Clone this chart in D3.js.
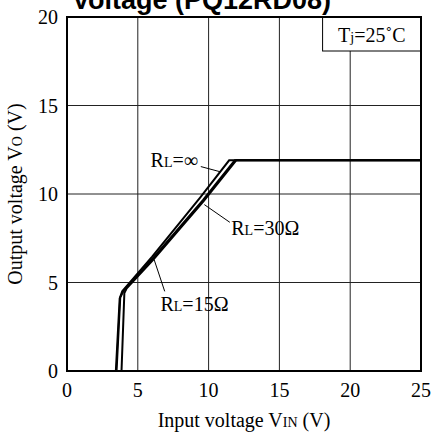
<!DOCTYPE html>
<html>
<head>
<meta charset="utf-8">
<script src="https://cdn.jsdelivr.net/npm/d3@7"></script>
<style>
  html, body { margin: 0; padding: 0; background: #fff; }
  svg { display: block; }
  text { font-family: "Liberation Serif", "Times New Roman", serif; fill: #000; }
</style>
</head>
<body>
<svg id="chart" width="434" height="432"></svg>
<script>
// Output voltage vs input voltage, Tj = 25°C
const xTicks = [0, 5, 10, 15, 20, 25];
const yTicks = [0, 5, 10, 15, 20];

// [Vin, Vo]
const curveInf = [[0, 0], [3.45, 0], [3.72, 4.1], [3.9, 4.5], [6.0, 6.45], [9.4, 9.8], [11.45, 11.9], [25, 11.9]];
const curve30 = [[0, 0], [3.5, 0], [3.76, 4.15], [4.0, 4.55], [6.1, 6.4], [9.6, 9.65], [11.85, 11.9], [25, 11.9]];
const curve15 = [[0, 0], [3.85, 0], [4.05, 4.4], [4.2, 4.65], [6.1, 6.3], [9.65, 9.6], [11.95, 11.9], [25, 11.9]];

// label text, leader line start (near label) and end (on curve), in data units
const labels = [
  { sub: "L", rest: "=∞", at: [5.9, 11.5], from: [9.45, 11.55], to: [10.85, 11.25] },
  { sub: "L", rest: "=30Ω", at: [11.6, 7.7], from: [11.5, 8.4], to: [9.7, 9.4] },
  { sub: "L", rest: "=15Ω", at: [6.6, 3.4], from: [6.9, 4.5], to: [6.15, 6.3] }
];

const margin = { top: 17, right: 13, bottom: 61, left: 67 };
const svg = d3.select("#chart");
const width = +svg.attr("width") - margin.left - margin.right;
const height = +svg.attr("height") - margin.top - margin.bottom;

const x = d3.scaleLinear().domain([0, 25]).range([margin.left, margin.left + width]);
const y = d3.scaleLinear().domain([0, 20]).range([margin.top + height, margin.top]);

// title, cut off by the top edge as in the source
svg.append("text")
  .attr("x", 72).attr("y", 9)
  .style("font-family", "'Liberation Sans', Arial, sans-serif")
  .style("font-weight", "bold")
  .style("font-size", "27px")
  .text("Voltage (PQ12RD08)");

// grid
svg.append("g").selectAll("line")
  .data(xTicks.slice(1, -1))
  .join("line")
  .attr("x1", d => x(d)).attr("x2", d => x(d))
  .attr("y1", y(0)).attr("y2", y(20))
  .attr("stroke", "#222").attr("stroke-width", 1);

svg.append("g").selectAll("line")
  .data(yTicks.slice(1, -1))
  .join("line")
  .attr("x1", x(0)).attr("x2", x(25))
  .attr("y1", d => y(d)).attr("y2", d => y(d))
  .attr("stroke", "#222").attr("stroke-width", 1);

// tick labels
svg.append("g").selectAll("text")
  .data(xTicks)
  .join("text")
  .attr("x", d => x(d)).attr("y", y(0) + 26)
  .attr("text-anchor", "middle")
  .style("font-size", "20px")
  .text(d => d);

svg.append("g").selectAll("text")
  .data(yTicks)
  .join("text")
  .attr("x", x(0) - 9).attr("y", d => y(d) + 7)
  .attr("text-anchor", "end")
  .style("font-size", "20px")
  .text(d => d);

// axis titles
const xt = svg.append("text")
  .attr("x", x(12.5)).attr("y", 427)
  .attr("text-anchor", "middle")
  .style("font-size", "20px");
xt.append("tspan").text("Input voltage V");
xt.append("tspan").style("font-size", "14px").text("IN");
xt.append("tspan").text(" (V)");

const yt = svg.append("text")
  .attr("transform", `translate(22,${y(10)}) rotate(-90)`)
  .attr("text-anchor", "middle")
  .style("font-size", "20px");
yt.append("tspan").text("Output voltage V");
yt.append("tspan").style("font-size", "14px").text("O");
yt.append("tspan").text(" (V)");

// curves
const line = d3.line().x(d => x(d[0])).y(d => y(d[1]));
svg.append("g").selectAll("path")
  .data([curve15, curve30, curveInf])
  .join("path")
  .attr("d", line)
  .attr("fill", "none")
  .attr("stroke", "#000")
  .attr("stroke-width", 2)
  .attr("stroke-linejoin", "miter");

// leader lines and labels
svg.append("g").selectAll("line")
  .data(labels)
  .join("line")
  .attr("x1", d => x(d.from[0])).attr("y1", d => y(d.from[1]))
  .attr("x2", d => x(d.to[0])).attr("y2", d => y(d.to[1]))
  .attr("stroke", "#000").attr("stroke-width", 1);

labels.forEach(d => {
  const t = svg.append("text")
    .attr("x", x(d.at[0])).attr("y", y(d.at[1]))
    .style("font-size", "20px");
  t.append("tspan").text("R");
  t.append("tspan").style("font-size", "14px").text(d.sub);
  t.append("tspan").text(d.rest);
});

// Tj box
const boxX = x(18.05), boxY = y(20), boxW = x(25) - x(18.05), boxH = 34;
svg.append("rect")
  .attr("x", boxX).attr("y", boxY)
  .attr("width", boxW).attr("height", boxH)
  .attr("fill", "#fff").attr("stroke", "#000").attr("stroke-width", 1);
const tj = svg.append("text")
  .attr("x", boxX + boxW / 2).attr("y", boxY + 25)
  .attr("text-anchor", "middle")
  .style("font-size", "20px");
tj.append("tspan").text("T");
tj.append("tspan").style("font-size", "14px").text("j");
tj.append("tspan").text("=25˚C");

// frame
svg.append("rect")
  .attr("x", x(0)).attr("y", y(20))
  .attr("width", width).attr("height", height)
  .attr("fill", "none").attr("stroke", "#000").attr("stroke-width", 2);
</script>
</body>
</html>
